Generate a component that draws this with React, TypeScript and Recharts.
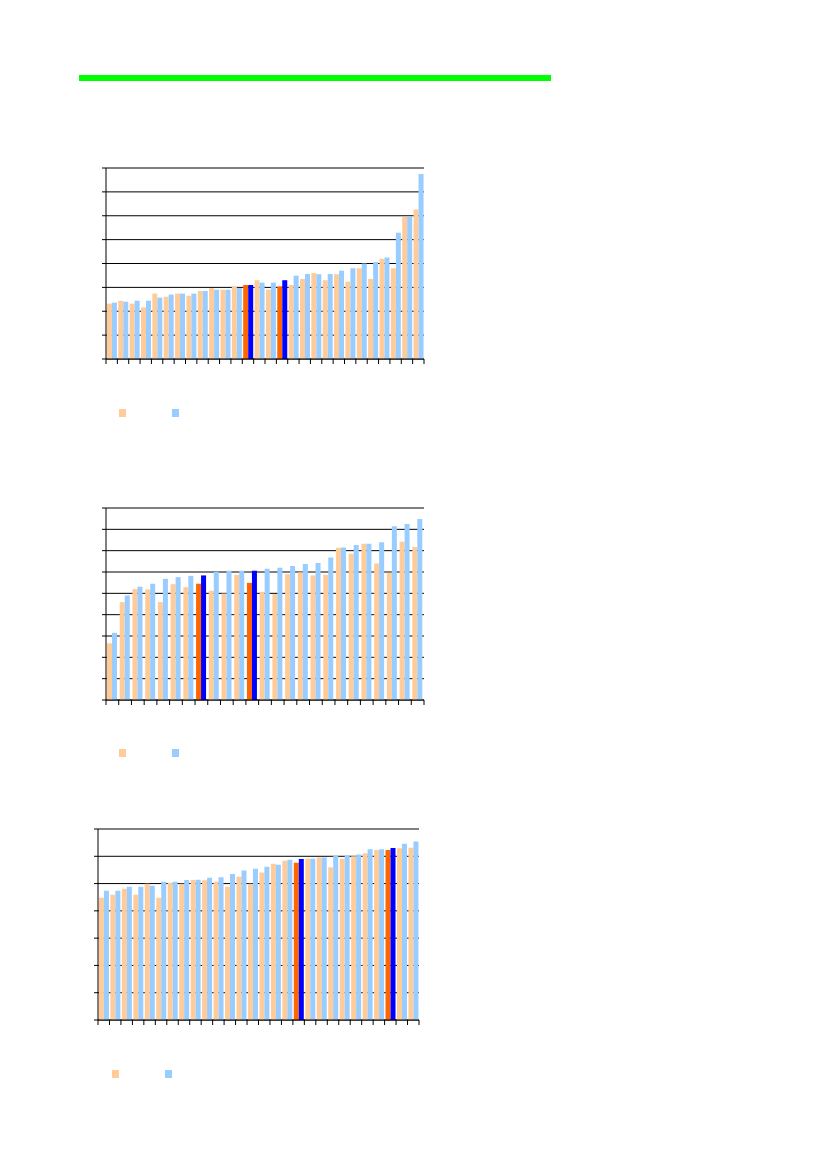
import React from "react";
import { BarChart, Bar, XAxis, YAxis, CartesianGrid, Legend, Cell } from "recharts";

const ORANGE = "#FFCC99";
const BLUE = "#99CCFF";
const ORANGE_HI = "#FF6600";
const BLUE_HI = "#0000FF";
const SERIES_ORDER = ["orange", "blue"];

// chart 1 (28 categories, scale 0-8)
const chart1Orange = [2.32, 2.44, 2.32, 2.16, 2.74, 2.61, 2.74, 2.65, 2.85, 2.97, 2.9, 3.04, 3.1, 3.3, 2.9, 3.04, 3.1, 3.35, 3.6, 3.3, 3.55, 3.24, 3.8, 3.35, 4.2, 3.8, 5.95, 6.26];
const chart1Blue = [2.36, 2.4, 2.44, 2.44, 2.57, 2.7, 2.74, 2.74, 2.85, 2.9, 2.9, 2.97, 3.1, 3.2, 3.2, 3.3, 3.49, 3.56, 3.55, 3.56, 3.7, 3.8, 4.0, 4.06, 4.25, 5.29, 5.95, 7.75];
const chart1Highlight = [12, 15];

// chart 2 (25 categories, scale 0-9)
const chart2Orange = [2.66, 4.59, 5.2, 5.18, 4.59, 5.43, 5.29, 5.45, 5.12, 4.99, 5.87, 5.49, 5.07, 4.96, 5.9, 5.98, 5.84, 5.87, 7.14, 6.85, 7.32, 6.4, 5.96, 7.42, 7.17];
const chart2Blue = [3.15, 4.9, 5.31, 5.45, 5.68, 5.76, 5.82, 5.84, 6.01, 6.06, 6.06, 6.06, 6.15, 6.2, 6.28, 6.38, 6.42, 6.68, 7.15, 7.26, 7.32, 7.39, 8.15, 8.25, 8.48];
const chart2Highlight = [7, 11];

// chart 3 (28 categories, scale 0-7)
const chart3Orange = [4.48, 4.59, 4.81, 4.59, 4.99, 4.48, 5.03, 4.99, 5.13, 5.12, 5.07, 4.88, 5.25, 4.99, 5.41, 5.73, 5.84, 5.76, 5.91, 5.96, 5.6, 5.91, 6.0, 6.11, 6.23, 6.23, 6.29, 6.31];
const chart3Blue = [4.74, 4.74, 4.88, 4.88, 4.92, 5.07, 5.07, 5.13, 5.14, 5.21, 5.23, 5.35, 5.48, 5.54, 5.62, 5.69, 5.87, 5.9, 5.91, 5.96, 6.01, 6.03, 6.07, 6.26, 6.26, 6.3, 6.46, 6.54];
const chart3Highlight = [17, 25];

type PanelProps = {
  orange: number[];
  blue: number[];
  highlight: number[];
  yMax: number;
  left: number;
  top: number;
  plotW: number;
  plotH: number;
  legendLeft: number;
  legendTop: number;
  legendGap: number;
};

const PAD = 10;
const X_AXIS_H = 20;
const blank = () => "";

function Panel({ orange, blue, highlight, yMax, left, top, plotW, plotH, legendLeft, legendTop, legendGap }: PanelProps) {
  const data = orange.map((v, i) => ({ name: String(i + 1), orange: v, blue: blue[i] }));
  const n = data.length;
  const yTicks = Array.from({ length: yMax + 1 }, (_, i) => i);
  const width = plotW + PAD * 2;
  const height = plotH + 80;
  const half = plotW / n / 2;

  // tick marks sit on the category boundaries, not on the centres
  const edgeTick = (props: any) => {
    const { x, y, index } = props;
    return (
      <g>
        <line x1={x - half} x2={x - half} y1={y} y2={y + 5} stroke="#000" />
        {index === n - 1 && <line x1={x + half} x2={x + half} y1={y} y2={y + 5} stroke="#000" />}
      </g>
    );
  };

  return (
    <div style={{ position: "absolute", left: left - PAD, top: top - PAD, width, height }}>
      <BarChart
        width={width}
        height={height}
        data={data}
        margin={{ top: PAD, left: 0, right: PAD, bottom: height - PAD - plotH - X_AXIS_H }}
        barCategoryGap="8%"
        barGap={0}
      >
        <CartesianGrid vertical={false} stroke="#000" strokeWidth={1} />
        <XAxis
          dataKey="name"
          height={X_AXIS_H}
          interval={0}
          tick={edgeTick}
          tickSize={0}
          tickMargin={0}
          tickLine={false}
          axisLine={{ stroke: "#000" }}
        />
        <YAxis
          width={PAD}
          domain={[0, yMax]}
          ticks={yTicks}
          interval={0}
          tickFormatter={blank}
          tickSize={4}
          tickLine={{ stroke: "#000" }}
          axisLine={{ stroke: "#000" }}
        />
        <Legend
          layout="horizontal"
          verticalAlign="middle"
          align="center"
          wrapperStyle={{ position: "absolute", left: legendLeft - left + PAD, top: legendTop - top + PAD, width: 100, height: 8 }}
          content={(props: any) => {
            const items = [...(props.payload || [])].sort(
              (a: any, b: any) => SERIES_ORDER.indexOf(a.dataKey) - SERIES_ORDER.indexOf(b.dataKey)
            );
            return (
              <div style={{ position: "relative", height: 8 }}>
                {items.map((p: any, i: number) => (
                  <div
                    key={i}
                    style={{ position: "absolute", left: i * legendGap, top: 0, width: 7, height: 8, background: p.color }}
                  />
                ))}
              </div>
            );
          }}
        />
        <Bar dataKey="orange" fill={ORANGE} isAnimationActive={false}>
          {data.map((_, i) => (
            <Cell key={`o-${i}`} fill={highlight.includes(i) ? ORANGE_HI : ORANGE} />
          ))}
        </Bar>
        <Bar dataKey="blue" fill={BLUE} isAnimationActive={false}>
          {data.map((_, i) => (
            <Cell key={`b-${i}`} fill={highlight.includes(i) ? BLUE_HI : BLUE} />
          ))}
        </Bar>
      </BarChart>
    </div>
  );
}

export default function App() {
  return (
    <div style={{ position: "absolute", left: 0, top: 0, width: 826, height: 1169, background: "#fff" }}>
      <div style={{ position: "absolute", left: 79, top: 75, width: 472, height: 6, background: "#00FF00" }} />
      <Panel
        orange={chart1Orange}
        blue={chart1Blue}
        highlight={chart1Highlight}
        yMax={8}
        left={106}
        top={168}
        plotW={318}
        plotH={191}
        legendLeft={119}
        legendTop={409}
        legendGap={53}
      />
      <Panel
        orange={chart2Orange}
        blue={chart2Blue}
        highlight={chart2Highlight}
        yMax={9}
        left={106}
        top={508}
        plotW={318}
        plotH={192}
        legendLeft={119}
        legendTop={749}
        legendGap={53}
      />
      <Panel
        orange={chart3Orange}
        blue={chart3Blue}
        highlight={chart3Highlight}
        yMax={7}
        left={98}
        top={829}
        plotW={321}
        plotH={191}
        legendLeft={112}
        legendTop={1070}
        legendGap={53}
      />
    </div>
  );
}
